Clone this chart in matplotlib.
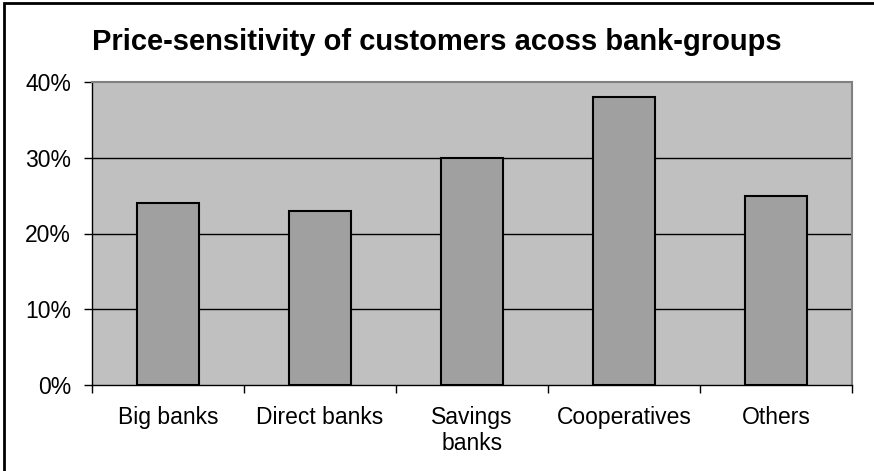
import matplotlib
matplotlib.use("Agg")
import matplotlib.pyplot as plt
from matplotlib.patches import Rectangle
from matplotlib.ticker import FixedLocator, NullFormatter

plt.rcParams['font.family'] = ['Liberation Sans', 'DejaVu Sans']

categories = ['Big banks', 'Direct banks', 'Savings\nbanks', 'Cooperatives', 'Others']
values = [24, 23, 30, 38, 25]
yticks = [0, 10, 20, 30, 40]

W, H = 874, 471
fig = plt.figure(figsize=(W / 100, H / 100), dpi=100)
ax = fig.add_axes([92 / W, 1 - 385 / H, (852 - 92) / W, (385 - 82) / H])

ax.set_facecolor('#c0c0c0')
x = range(len(categories))
ax.bar(x, values, width=0.41, color='#a0a0a0', edgecolor='black', linewidth=1.5, zorder=3)

ax.set_xlim(-0.5, len(categories) - 0.5)
ax.set_ylim(0, 40)

# horizontal gridlines
for v in yticks[1:-1]:
    ax.axhline(v, color='black', linewidth=1, zorder=2)

ax.set_yticks(yticks)
ax.set_yticklabels([f'{v}%' for v in yticks], fontsize=16.5)
ax.tick_params(axis='y', direction='out', length=6, width=1, pad=9)

# tick marks between categories, labels centred under the bars
ax.xaxis.set_major_locator(FixedLocator([i - 0.5 for i in range(len(categories) + 1)]))
ax.xaxis.set_major_formatter(NullFormatter())
ax.xaxis.set_minor_locator(FixedLocator(list(x)))
ax.set_xticklabels(categories, minor=True, fontsize=16.5)
ax.tick_params(axis='x', which='major', direction='out', length=6, width=1)
ax.tick_params(axis='x', which='minor', length=0, pad=15)

for s in ['left', 'bottom']:
    ax.spines[s].set_color('black')
    ax.spines[s].set_linewidth(1)
for s in ['top', 'right']:
    ax.spines[s].set_color('#808080')
    ax.spines[s].set_linewidth(1.5)

fig.text(0.5, 1 - 42 / H, 'Price-sensitivity of customers acoss bank-groups',
         ha='center', va='center', fontsize=21, fontweight='bold')

# outer frame, running off the right and bottom edges
fig.patches.append(Rectangle((4 / W, -0.1), 1.2, 1.1 - 2.5 / H, transform=fig.transFigure,
                             fill=False, edgecolor='black', linewidth=2))

fig.savefig('out.png', dpi=100)
